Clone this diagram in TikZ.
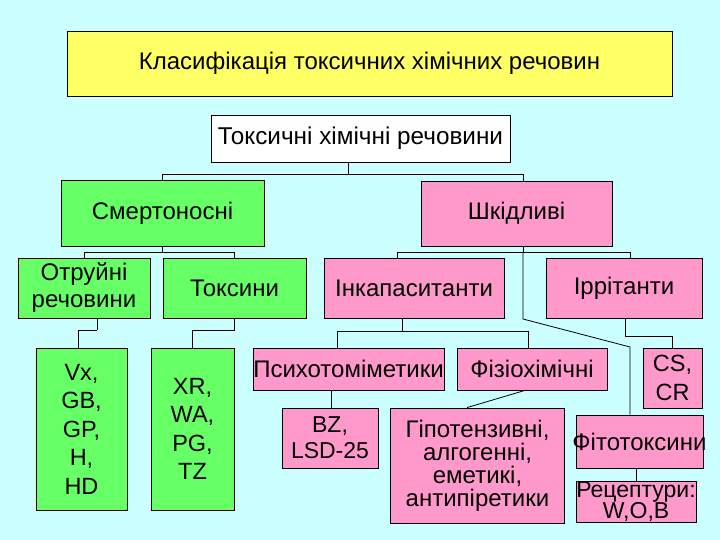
\documentclass[tikz,border=0pt]{standalone}
\usepackage{fontspec}
\setmainfont{Liberation Sans}
\usetikzlibrary{calc}
\definecolor{bgc}{RGB}{204,255,255}
\definecolor{ylw}{RGB}{255,255,102}
\definecolor{grn}{RGB}{102,255,102}
\definecolor{pnk}{RGB}{255,153,204}
\begin{document}
\begin{tikzpicture}[x=1pt,y=-1pt,
  box/.style={draw=black, line width=0.8pt, inner sep=0pt, align=center,
    font=\fontsize{24}{28}\selectfont},
  gbox/.style={box, fill=grn},
  pbox/.style={box, fill=pnk},
  con/.style={draw=black, line width=0.8pt}]
\fill[bgc] (0,0) rectangle (720,540);
\useasboundingbox (0,0) rectangle (720,540);

% top
\node[box, fill=ylw, minimum width=605pt, minimum height=65pt,
  font=\fontsize{24}{28}\selectfont] (title) at (369.5,63.5)
  {Класифікація токсичних хімічних речовин};
\node[box, fill=white, minimum width=299pt, minimum height=47pt,
  font=\fontsize{24.3}{28}\selectfont] (tox) at (360.5,138.5)
  {Токсичні хімічні речовини};

% level 1
\node[gbox, minimum width=203pt, minimum height=66pt] (smert) at (162.5,213) {Смертоносні};
\node[pbox, minimum width=191pt, minimum height=65pt] (shkid) at (516.5,213.5) {Шкідливі};

% level 2
\node[gbox, minimum width=132pt, minimum height=60pt, font=\fontsize{24}{27}\selectfont] (otr) at (84,288) {Отруйні\\речовини};
\node[gbox, minimum width=143pt, minimum height=60pt] (toks) at (234.5,288) {Токсини};
\node[pbox, minimum width=180pt, minimum height=60pt] (inkap) at (414,288) {Інкапаситанти};
\node[pbox, minimum width=156pt, minimum height=60pt] (irr) at (624,288) {Іррітанти};

% level 3
\node[gbox, minimum width=91pt, minimum height=162pt, font=\fontsize{23.5}{28.5}\selectfont] (vx) at (81.5,429) {Vx,\\GB,\\GP,\\H,\\HD};
\node[gbox, minimum width=83pt, minimum height=162pt, font=\fontsize{23.5}{28.5}\selectfont] (xr) at (192.5,429) {XR,\\WA,\\PG,\\TZ};
\node[pbox, minimum width=191pt, minimum height=42pt] (psy) at (348.5,369) {Психотоміметики};
\node[pbox, minimum width=150pt, minimum height=42pt] (fiz) at (532,369) {Фізіохімічні};
\node[pbox, minimum width=59pt, minimum height=60pt, font=\fontsize{23.5}{29}\selectfont] (cs) at (672.5,378) {CS,\\CR};

% level 4
\node[pbox, minimum width=96pt, minimum height=60pt, font=\fontsize{23}{26}\selectfont] (bz) at (330,438) {BZ,\\LSD-25};
\node[pbox, minimum width=174pt, minimum height=115pt, font=\fontsize{24}{23}\selectfont] (gip) at (477.5,465.5)
  {Гіпотензивні,\\алгогенні,\\еметикі,\\антипіретики};
\node[pbox, minimum width=127pt, minimum height=53pt] (fito) at (639.5,441.5) {\makebox[0pt]{Фітотоксини}};
\node[pbox, minimum width=120pt, minimum height=41pt, font=\fontsize{23}{20.5}\selectfont] (rec) at (636,501.5)
  {\makebox[0pt]{Рецептури:}\\\makebox[0pt]{W,O,B}};

% connectors
\draw[con] ($(tox.south)+(-12.5,0)$) -- ++(0,12) coordinate (b1);
\draw[con] (b1) -| (smert.north);
\draw[con] (b1) -| ($(shkid.north)+(6.5,0)$);

\draw[con] (smert.south) -- ++(0,6) coordinate (b2);
\draw[con] (b2) -| (otr.north);
\draw[con] (b2) -| (toks.north);

\draw[con] ($(shkid.south)+(6.5,0)$) -- ++(0,6) coordinate (b3);
\draw[con] (b3) -| ($(inkap.north)+(-17,0)$);
\draw[con] (b3) -| ($(irr.north)+(6,0)$);
\draw[con] (b3) -- (523,319) coordinate (b4) -- (630,347) coordinate (b5) -- ($(fito.north)+(-9.5,0)$);

\draw[con] ($(otr.south)+(13,0)$) -- ++(0,12) coordinate (b6);
\draw[con] (b6) -| ($(vx.north)+(-3.5,0)$);

\draw[con] (toks.south) -- ++(0,12) coordinate (b7);
\draw[con] (b7) -| (xr.north);

\draw[con] ($(inkap.south)+(-12,0)$) -- ++(0,13) coordinate (b8);
\draw[con] (b8) -| ($(psy.north)+(-11.5,0)$);
\draw[con] (b8) -| ($(fiz.north)+(-4,0)$);

\draw[con] ($(irr.south)+(1,0)$) -- ++(0,18) coordinate (b9);
\draw[con] (b9) -| (cs.north);

\draw[con] ($(psy.south)+(-17.5,0)$) -- ($(bz.north)+(1,0)$);
\draw[con] ($(fiz.south)+(-7,0)$) -- ($(gip.north)+(-10.5,0)$);
\draw[con] ($(fito.south)+(-3.5,0)$) -- (rec.north);
\end{tikzpicture}
\end{document}
